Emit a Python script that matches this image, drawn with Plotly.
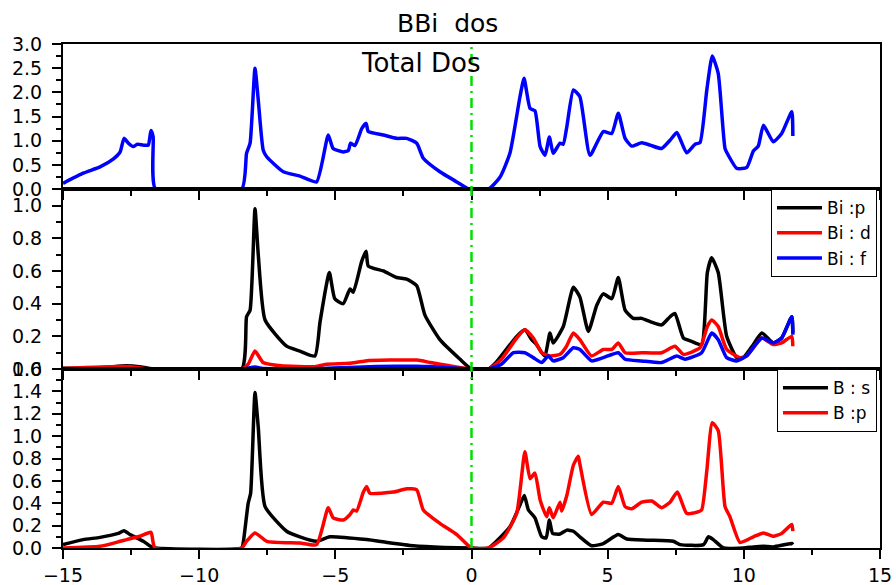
import plotly.graph_objects as go

# ---------------- data ----------------
tot_x = [-15.0, -14.26, -13.64, -13.16, -12.9, -12.76, -12.6, -12.42, -12.27, -12.05, -11.87, -11.77, -11.69, -11.6,
         -8.44, -8.26, -8.13, -7.95, -7.83, -7.65, -7.52, -6.91, -6.3, -5.69, -5.26, -5.08, -4.71, -4.52, -4.44, -4.28,
         -4.03, -3.87, -3.79, -3.24, -2.75, -2.38, -2.01, -1.77, -1.16, -0.54, -0.12, 0.0, 0.62, 1.05, 1.41, 1.78, 1.93,
         2.15, 2.33, 2.52, 2.7, 2.86, 3.0, 3.25, 3.37, 3.5, 3.74, 3.98, 4.35, 4.84, 5.15, 5.39, 5.64, 5.88, 6.25, 6.56,
         6.98, 7.29, 7.54, 7.9, 8.21, 8.39, 8.64, 8.84, 9.06, 9.31, 9.43, 9.74, 10.11, 10.35, 10.53, 10.72, 11.08, 11.39,
         11.76, 11.8]
tot_y = [0.12, 0.33, 0.46, 0.62, 0.77, 1.05, 0.95, 0.88, 0.93, 0.91, 0.91, 1.21, 1.08, 0.0,
         0.0, 0.74, 0.95, 2.5, 1.84, 0.81, 0.67, 0.36, 0.27, 0.15, 1.12, 0.84, 0.77, 0.80, 0.95, 0.90,
         1.25, 1.36, 1.19, 1.12, 1.05, 1.05, 0.95, 0.64, 0.36, 0.15, 0.01, 0.0, 0.0, 0.25, 0.74, 1.91, 2.29,
         1.67, 1.62, 0.88, 0.70, 1.08, 0.74, 0.95, 0.93, 1.29, 2.05, 1.91, 0.70, 1.19, 1.15, 1.57, 1.05, 0.89, 0.96, 0.91,
         0.84, 1.01, 1.17, 0.75, 0.93, 0.96, 2.05, 2.75, 2.39, 0.84, 0.70, 0.43, 0.45, 0.79, 0.89, 1.32, 0.98, 1.15,
         1.6, 1.1]

bip_x = [-15.0, -13.5, -12.7, -12.2, -11.7, -8.44, -8.26, -8.13, -7.95, -7.83, -7.58, -6.79, -6.3, -5.75, -5.56, -5.22,
         -5.02, -4.71, -4.46, -4.34, -4.03, -3.87, -3.79, -3.24, -2.75, -2.38, -2.01, -1.71, -1.16, -0.42, 0.0, 0.62,
         0.9, 1.66, 1.96, 2.21, 2.39, 2.58, 2.7, 2.88, 3.0, 3.37, 3.74, 3.98, 4.29, 4.6, 4.84, 5.15, 5.39, 5.64, 5.94,
         6.25, 6.56, 6.98, 7.29, 7.47, 7.78, 8.08, 8.45, 8.66, 8.82, 9.06, 9.37, 9.74, 9.98, 10.35, 10.66, 11.08, 11.39,
         11.76, 11.8]
bip_y = [0.005, 0.01, 0.02, 0.015, 0.0, 0.0, 0.32, 0.36, 0.98, 0.7, 0.30, 0.14, 0.11, 0.08, 0.29, 0.59,
         0.43, 0.40, 0.49, 0.47, 0.66, 0.72, 0.63, 0.60, 0.56, 0.55, 0.51, 0.33, 0.18, 0.06, 0.0, 0.0,
         0.04, 0.20, 0.24, 0.18, 0.15, 0.10, 0.08, 0.22, 0.16, 0.26, 0.50, 0.44, 0.23, 0.39, 0.46, 0.43, 0.56, 0.36, 0.31,
         0.31, 0.29, 0.27, 0.32, 0.34, 0.19, 0.17, 0.15, 0.59, 0.68, 0.59, 0.20, 0.07, 0.07, 0.15, 0.22, 0.16, 0.19,
         0.32, 0.22]

bid_x = [-15.0, -12.7, -11.7, -8.44, -8.2, -7.95, -7.65, -7.0, -5.75, -5.3, -4.5, -3.9, -3.0, -2.0, -1.5, -0.8, 0.0,
         0.62, 1.1, 1.66, 1.96, 2.27, 2.58, 2.88, 3.25, 3.49, 3.74, 3.98, 4.41, 4.84, 5.15, 5.39, 5.64, 6.25, 6.98,
         7.47, 7.78, 8.39, 8.66, 8.82, 9.06, 9.37, 9.86, 10.1, 10.66, 11.08, 11.39, 11.76, 11.8]
bid_y = [0.003, 0.015, 0.0, 0.0, 0.03, 0.11, 0.04, 0.02, 0.015, 0.03, 0.035, 0.05, 0.055, 0.055, 0.04, 0.02, 0.0,
         0.0, 0.06, 0.19, 0.24, 0.19, 0.10, 0.08, 0.09, 0.14, 0.22, 0.18, 0.08, 0.12, 0.12, 0.16, 0.10, 0.10, 0.10,
         0.14, 0.09, 0.13, 0.26, 0.30, 0.26, 0.12, 0.07, 0.08, 0.19, 0.15, 0.16, 0.20, 0.14]

bif_x = [-15.0, -8.44, -7.95, -7.6, -5.5, -4.5, -3.5, -2.0, -1.5, -0.5, 0.0, 0.62, 1.1, 1.54, 1.96, 2.27, 2.58, 2.82,
         3.0, 3.37, 3.74, 3.98, 4.41, 4.84, 5.39, 5.64, 6.25, 6.98, 7.54, 7.84, 8.45, 8.82, 9.06, 9.37, 9.74, 10.1,
         10.66, 11.08, 11.39, 11.76, 11.8]
bif_y = [0.0, 0.0, 0.012, 0.003, 0.003, 0.01, 0.015, 0.018, 0.015, 0.005, 0.0, 0.0, 0.03, 0.10, 0.10, 0.07, 0.04, 0.08,
         0.05, 0.07, 0.13, 0.12, 0.05, 0.07, 0.10, 0.06, 0.05, 0.04, 0.08, 0.06, 0.10, 0.22, 0.18, 0.07, 0.05, 0.08,
         0.19, 0.16, 0.19, 0.32, 0.21]

bs_x = [-15.0, -14.26, -13.64, -12.97, -12.76, -12.54, -12.05, -11.75, -11.6, -8.44, -8.38, -8.2, -8.11, -7.95, -7.83,
        -7.58, -6.79, -6.3, -5.69, -5.2, -3.85, -3.11, -2.14, -1.0, 0.0, 0.62, 1.41, 1.78, 1.94, 2.09, 2.33, 2.58,
        2.74, 2.86, 2.98, 3.25, 3.5, 3.74, 3.98, 4.41, 4.84, 5.39, 5.7, 6.45, 7.41, 7.66, 8.52, 8.7, 8.88, 9.25,
        9.98, 10.35, 10.72, 11.08, 11.76, 11.8]
bs_y = [0.03, 0.075, 0.095, 0.13, 0.155, 0.12, 0.06, 0.01, 0.0, 0.0, 0.05, 0.40, 0.49, 1.39, 1.08,
        0.37, 0.15, 0.10, 0.06, 0.10, 0.075, 0.05, 0.02, 0.005, 0.0, 0.0, 0.19, 0.385, 0.47, 0.34, 0.27, 0.10,
        0.09, 0.25, 0.13, 0.125, 0.16, 0.15, 0.10, 0.02, 0.04, 0.12, 0.08, 0.07, 0.06, 0.03, 0.03, 0.10, 0.075, 0.0,
        0.0, 0.01, 0.015, 0.01, 0.04, 0.03]

bp_x = [-15.0, -13.64, -12.9, -12.66, -12.17, -11.77, -11.62, -8.44, -8.26, -7.95, -7.52, -6.3, -5.69, -5.26, -5.08,
        -4.71, -4.46, -4.34, -4.22, -3.97, -3.85, -3.73, -2.87, -2.38, -2.01, -1.77, -1.16, -0.54, 0.0, 0.62, 1.17,
        1.66, 1.96, 2.15, 2.33, 2.52, 2.76, 2.86, 3.0, 3.25, 3.31, 3.5, 3.74, 3.92, 3.98, 4.41, 4.84, 5.15, 5.39,
        5.64, 5.88, 6.25, 6.62, 6.98, 7.29, 7.56, 7.9, 8.27, 8.45, 8.64, 8.84, 9.06, 9.31, 9.49, 9.86, 10.35, 10.72,
        11.08, 11.39, 11.76, 11.8]
bp_y = [0.0, 0.015, 0.06, 0.075, 0.105, 0.14, 0.0, 0.0, 0.06, 0.135, 0.06, 0.045, 0.03, 0.36, 0.27,
        0.25, 0.30, 0.34, 0.33, 0.50, 0.55, 0.49, 0.50, 0.53, 0.52, 0.34, 0.22, 0.12, 0.0, 0.0, 0.09,
        0.31, 0.86, 0.62, 0.67, 0.43, 0.28, 0.36, 0.27, 0.41, 0.33, 0.47, 0.74, 0.82, 0.75, 0.30, 0.41, 0.40, 0.55,
        0.37, 0.35, 0.41, 0.42, 0.36, 0.41, 0.50, 0.31, 0.32, 0.34, 0.69, 1.12, 1.05, 0.37, 0.28, 0.05, 0.10, 0.135,
        0.105, 0.13, 0.21, 0.15]

x_ticks = [-15, -10, -5, 0, 5, 10, 15]

# ---------------- figure ----------------
FONT = "DejaVu Sans"
LW = 3.5


def line(color):
    return dict(color=color, width=LW, shape="spline", smoothing=0.5)


fig = go.Figure()
fig.add_trace(go.Scatter(x=tot_x, y=tot_y, mode="lines", line=line("#0000FF"),
                         xaxis="x", yaxis="y", showlegend=False, name="Total Dos"))
fig.add_trace(go.Scatter(x=bip_x, y=bip_y, mode="lines", line=line("black"),
                         xaxis="x2", yaxis="y2", name="Bi :p", legend="legend"))
fig.add_trace(go.Scatter(x=bid_x, y=bid_y, mode="lines", line=line("#FF0000"),
                         xaxis="x2", yaxis="y2", name="Bi : d", legend="legend"))
fig.add_trace(go.Scatter(x=bif_x, y=bif_y, mode="lines", line=line("#0000FF"),
                         xaxis="x2", yaxis="y2", name="Bi : f", legend="legend"))
fig.add_trace(go.Scatter(x=bs_x, y=bs_y, mode="lines", line=line("black"),
                         xaxis="x3", yaxis="y3", name="B : s", legend="legend2"))
fig.add_trace(go.Scatter(x=bp_x, y=bp_y, mode="lines", line=line("#FF0000"),
                         xaxis="x3", yaxis="y3", name="B :p", legend="legend2"))

ax_common = dict(showline=True, linecolor="black", linewidth=2, mirror=True, ticks="outside",
                 ticklen=9, tickwidth=2, tickcolor="black", showgrid=False, zeroline=False,
                 automargin=False,
                 tickfont=dict(family=FONT, size=19, color="black"))


def xax(anchor, labels):
    d = dict(ax_common)
    d.update(range=[-15, 15], tickvals=x_ticks, anchor=anchor, domain=[0, 1], showticklabels=labels,
             minor=dict(ticks="outside", ticklen=5, tickwidth=2, tickcolor="black", dtick=2.5, tick0=0))
    return d


def yax(anchor, rng, dtick, mdtick, dom):
    d = dict(ax_common)
    d.update(range=rng, dtick=dtick, tick0=0, tickformat=".1f", anchor=anchor, domain=dom,
             ticklabelstandoff=6,
             minor=dict(ticks="outside", ticklen=5, tickwidth=2, tickcolor="black", dtick=mdtick, tick0=0))
    return d


fig.update_layout(
    width=896, height=585,
    margin=dict(l=63, r=16, t=44, b=37, autoexpand=False),
    paper_bgcolor="white", plot_bgcolor="white",
    font=dict(family=FONT, color="black"),
    xaxis=xax("y", False),
    xaxis2=xax("y2", False),
    xaxis3=xax("y3", True),
    yaxis=yax("x", [0, 3.0], 0.5, 0.25, [0.712, 1.0]),
    yaxis2=yax("x2", [0, 1.1], 0.2, 0.1, [0.355, 0.712]),
    yaxis3=yax("x3", [0, 1.6], 0.2, 0.1, [0.0, 0.355]),
    legend=dict(x=0.9963, xanchor="right", y=0.712, yanchor="top", bgcolor="white",
                bordercolor="black", borderwidth=1, font=dict(family=FONT, size=17, color="black"),
                itemwidth=45, tracegroupgap=0),
    legend2=dict(x=0.9963, xanchor="right", y=0.355, yanchor="top", bgcolor="white",
                 bordercolor="black", borderwidth=1, font=dict(family=FONT, size=17, color="black"),
                 itemwidth=45, tracegroupgap=0),
    shapes=[dict(type="line", xref="x3", yref="paper", x0=0, x1=0, y0=0, y1=1,
                 line=dict(color="#00E000", width=2.5, dash="10px,5px,2px,5px"))],
    annotations=[
        dict(text="BBi\u00a0 dos", xref="paper", yref="paper", x=0.471, y=1.04, showarrow=False,
             xanchor="center", yanchor="middle", font=dict(family=FONT, size=25, color="black")),
        dict(text="Total Dos", xref="paper", yref="paper", x=0.4376, y=0.9623, showarrow=False,
             xanchor="center", yanchor="middle", font=dict(family=FONT, size=26, color="black")),
    ],
)

fig.write_html("out.html")
